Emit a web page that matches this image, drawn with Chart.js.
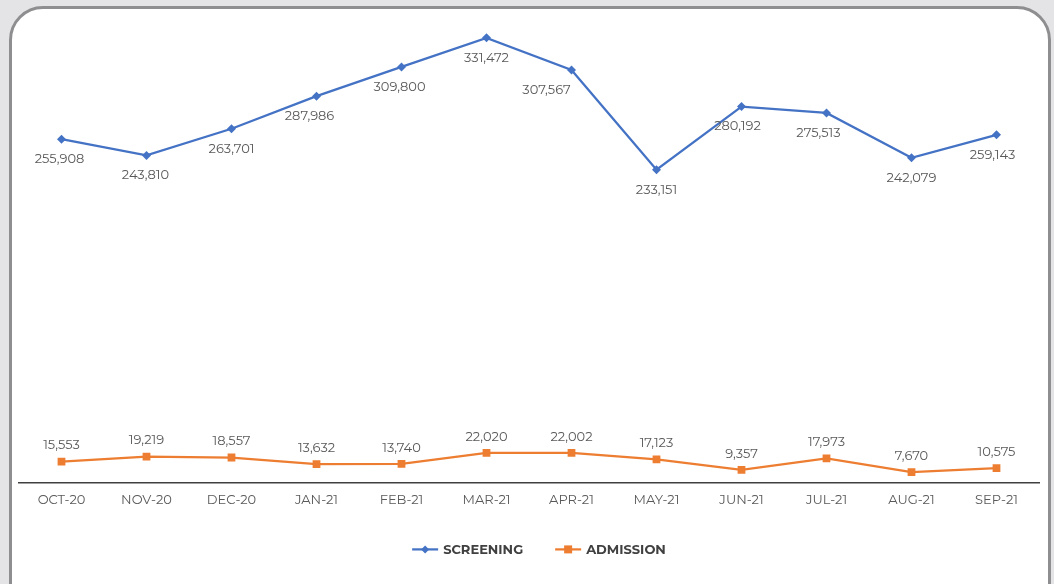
<!DOCTYPE html>
<html>
<head>
<meta charset="utf-8">
<script src="https://cdn.jsdelivr.net/npm/chart.js@4.4.1/dist/chart.umd.min.js"></script>
<style>
  html, body { margin: 0; padding: 0; background: #e4e4e6; width: 1054px; height: 584px; overflow: hidden; }
  #card { position: absolute; left: 9px; top: 6px; width: 1036px; height: 620px; background: #fff;
          border: 3px solid #8e8e90; border-radius: 34px; }
  #c { position: absolute; left: 0; top: 0; }
</style>
</head>
<body>
<div id="card"></div>
<canvas id="c" width="1054" height="584"></canvas>
<script>
const categories = ['OCT-20','NOV-20','DEC-20','JAN-21','FEB-21','MAR-21','APR-21','MAY-21','JUN-21','JUL-21','AUG-21','SEP-21'];
const screening = [255908, 243810, 263701, 287986, 309800, 331472, 307567, 233151, 280192, 275513, 242079, 259143];
const admission = [15553, 19219, 18557, 13632, 13740, 22020, 22002, 17123, 9357, 17973, 7670, 10575];
const seriesNames = ['SCREENING', 'ADMISSION'];

const FONT = "'Montserrat', 'Open Sans', 'Noto Sans', sans-serif";
const BLUE = '#4472C4', ORANGE = '#ED7D31';

const valueLabels = {
  id: 'valueLabels',
  afterDatasetsDraw(chart, args, opts) {
    const ctx = chart.ctx;
    ctx.save();
    ctx.font = '13px ' + FONT;
    ctx.fillStyle = '#595959';
    ctx.textAlign = 'center';
    ctx.textBaseline = 'middle';
    chart.data.datasets.forEach((ds, di) => {
      const meta = chart.getDatasetMeta(di);
      const cfg = opts.series[di];
      meta.data.forEach((pt, i) => {
        const dx = (cfg.dx && cfg.dx[i]) || 0;
        ctx.fillText(ds.data[i].toLocaleString('en-US'), pt.x + dx, pt.y + cfg.dy);
      });
    });
    ctx.restore();
  }
};

const customLegend = {
  id: 'customLegend',
  afterDraw(chart, args, opts) {
    const ctx = chart.ctx;
    ctx.save();
    ctx.font = 'bold 13px ' + FONT;
    const symW = 26, gap = 5, itemGap = 32;
    const items = chart.data.datasets.map(ds => ({ ds, w: ctx.measureText(ds.label).width }));
    const total = items.reduce((s, it) => s + symW + gap + it.w, 0) + itemGap * (items.length - 1);
    const cx = (chart.chartArea.left + chart.chartArea.right) / 2 + opts.shift;
    let x = cx - total / 2;
    const y = chart.chartArea.bottom + opts.offsetY;
    items.forEach(it => {
      const ds = it.ds;
      ctx.strokeStyle = ds.borderColor;
      ctx.lineWidth = 2.25;
      ctx.beginPath(); ctx.moveTo(x, y); ctx.lineTo(x + symW, y); ctx.stroke();
      ctx.fillStyle = ds.backgroundColor;
      const mx = x + symW / 2;
      if (ds.pointStyle === 'rectRot') {
        ctx.beginPath(); ctx.moveTo(mx, y - 4); ctx.lineTo(mx + 4, y); ctx.lineTo(mx, y + 4); ctx.lineTo(mx - 4, y); ctx.closePath(); ctx.fill();
      } else {
        ctx.fillRect(mx - 4, y - 4, 8, 8);
      }
      ctx.fillStyle = '#404040';
      ctx.textAlign = 'left';
      ctx.textBaseline = 'middle';
      ctx.fillText(ds.label, x + symW + gap, y + 1);
      x += symW + gap + it.w + itemGap;
    });
    ctx.restore();
  }
};

new Chart(document.getElementById('c'), {
  type: 'line',
  data: {
    labels: categories,
    datasets: [
      { label: seriesNames[0], data: screening, borderColor: BLUE, backgroundColor: BLUE,
        borderWidth: 2.25, pointStyle: 'rectRot', pointRadius: 4.5, pointBorderWidth: 0, tension: 0 },
      { label: seriesNames[1], data: admission, borderColor: ORANGE, backgroundColor: ORANGE,
        borderWidth: 2.25, pointStyle: 'rect', pointRadius: 5.5, pointBorderWidth: 0, tension: 0 }
    ]
  },
  options: {
    responsive: false,
    animation: false,
    layout: { padding: { left: 19, right: 15, top: 13, bottom: 66 } },
    plugins: {
      legend: { display: false },
      tooltip: { enabled: false },
      valueLabels: { series: [
        { dy: 20, dx: [-2, -1, 0, -7, -2, 0, -25, 0, -4, -8, 0, -4] },
        { dy: -16 }
      ] },
      customLegend: { offsetY: 67, shift: 10 }
    },
    scales: {
      x: {
        offset: true,
        grid: { display: false, drawTicks: false },
        border: { display: true, color: '#404040', width: 1.5 },
        ticks: { color: '#595959', font: { family: FONT, size: 13 }, padding: 10, maxRotation: 0 }
      },
      y: {
        display: false,
        min: 0, max: 350000
      }
    }
  },
  plugins: [valueLabels, customLegend]
});
</script>
</body>
</html>
